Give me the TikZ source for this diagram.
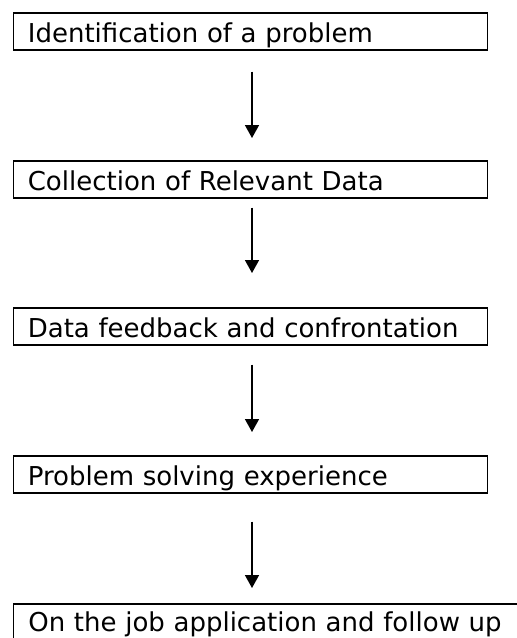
\documentclass[tikz,border=0pt]{standalone}
\usepackage{fontspec}
\setmainfont{DejaVu Sans}
\usetikzlibrary{arrows.meta}
\begin{document}
\begin{tikzpicture}[x=1pt,y=-1pt,
  stepbox/.style={draw=black, line width=1.7pt, rectangle, anchor=north west,
    minimum width=474pt, inner xsep=14.5pt, inner ysep=0pt,
    text height=30pt, text depth=7pt, text width=445pt, align=left,
    font=\fontsize{26}{30}\selectfont},
  arr/.style={line width=1.5pt, -{Triangle[width=14pt,length=13pt]}}]
\useasboundingbox[fill=white] (0,0) rectangle (517,638);
\begin{scope}
\clip (0,0) rectangle (517,638);
\coordinate (ax) at (252,0);
\node[stepbox] (b1) at (12.5,12) {Identification of a problem};
\node[stepbox] (b2) at (12.5,160) {Collection of Relevant Data};
\node[stepbox] (b3) at (12.5,307) {Data feedback and confrontation};
\node[stepbox] (b4) at (12.5,455) {Problem solving experience};
\node[stepbox, minimum width=530pt, text width=500pt, text height=27.5pt] (b5) at (12.5,603) {On the job application and follow up};
\draw[arr, shorten <=21pt, shorten >=22pt] (b1.south -| ax) -- (b2.north -| ax);
\draw[arr, shorten <=9pt, shorten >=34pt] (b2.south -| ax) -- (b3.north -| ax);
\draw[arr, shorten <=19pt, shorten >=23pt] (b3.south -| ax) -- (b4.north -| ax);
\draw[arr, shorten <=28pt, shorten >=15pt] (b4.south -| ax) -- (b5.north -| ax);
\end{scope}
\end{tikzpicture}
\end{document}
